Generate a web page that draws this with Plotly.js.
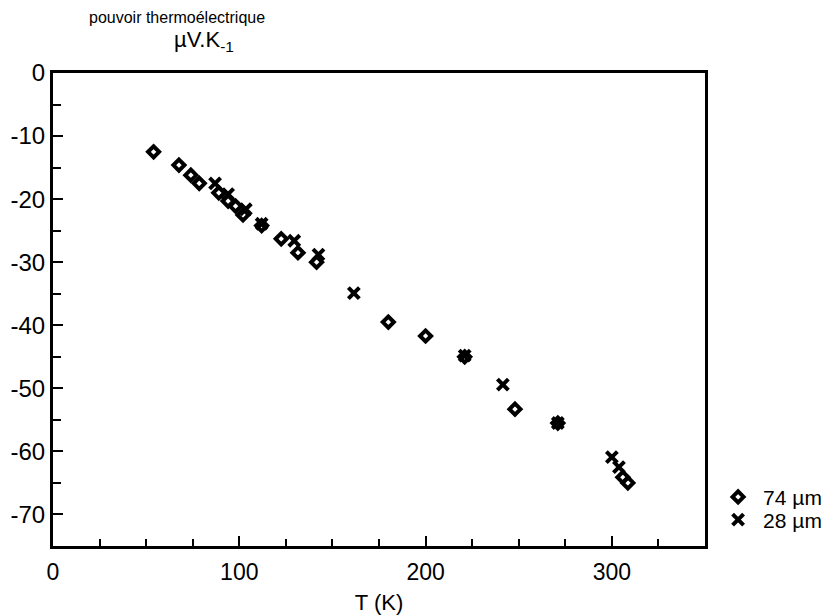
<!DOCTYPE html>
<html>
<head>
<meta charset="utf-8">
<script src="https://cdn.plot.ly/plotly-3.0.1.min.js"></script>
<style>html,body{margin:0;padding:0;background:#fff;}#chart{width:835px;height:616px;}</style>
</head>
<body>
<div id="chart"></div>
<script>
// 74 µm sample
const T74 = [54, 67.6, 74, 78.5, 89, 94, 98, 102, 112, 122.5, 131.5, 141.5, 180, 200, 221, 248, 271, 305.9, 308.6];
const S74 = [-12.5, -14.6, -16.2, -17.5, -19.0, -20.3, -21.1, -22.5, -24.2, -26.3, -28.5, -30.0, -39.5, -41.7, -45.0, -53.3, -55.5, -64.1, -65.0];
// 28 µm sample
const T28 = [87, 94, 103.5, 112, 129.5, 142.5, 161.5, 221, 241.5, 271, 300, 303.8];
const S28 = [-17.5, -19.2, -21.6, -23.9, -26.6, -28.8, -34.9, -44.8, -49.4, -55.5, -60.9, -62.5];
const seriesNames = ['74 µm', '28 µm'];
const xTickVals = [0, 100, 200, 300];
const xTickText = ['0', '100', '200', '300'];
const yTickVals = [0, -10, -20, -30, -40, -50, -60, -70];
const yTickText = ['0', '-10', '-20', '-30', '-40', '-50', '-60', '-70'];
const xTitle = 'T (K)';
const yTitleLine1 = 'pouvoir thermoélectrique';
const yTitleLine2 = 'µV.K<sub>-1</sub>';

const FONT = 'Liberation Sans, Arial, Helvetica, sans-serif';

const traces = [
  {
    x: T74, y: S74, name: seriesNames[0], type: 'scatter', mode: 'markers',
    marker: {symbol: 'diamond-open', size: 8.5, color: '#000', line: {width: 4, color: '#000'}},
    legend: 'legend'
  },
  {
    x: T28, y: S28, name: seriesNames[1], type: 'scatter', mode: 'markers',
    marker: {symbol: 'x-thin-open', size: 11, color: '#000', line: {width: 4, color: '#000'}},
    legend: 'legend2'
  }
];

const layout = {
  width: 835, height: 616,
  margin: {l: 53, r: 130, t: 73, b: 70, autoexpand: false},
  paper_bgcolor: '#fff', plot_bgcolor: '#fff',
  font: {family: FONT, color: '#000', size: 22},
  showlegend: true,
  legend: {x: 1.0124, y: 0.103, xanchor: 'left', yanchor: 'middle', itemwidth: 40, font: {size: 21, family: FONT}, bgcolor: 'rgba(0,0,0,0)', borderwidth: 0},
  legend2: {x: 1.0124, y: 0.055, xanchor: 'left', yanchor: 'middle', itemwidth: 40, font: {size: 21, family: FONT}, bgcolor: 'rgba(0,0,0,0)', borderwidth: 0},
  xaxis: {
    range: [0, 350], tickmode: 'array', tickvals: xTickVals, ticktext: xTickText,
    ticks: 'inside', ticklen: 10, tickwidth: 2, tickcolor: '#000',
    minor: {dtick: 25, tick0: 0, ticks: 'inside', ticklen: 7, tickwidth: 2, tickcolor: '#000'},
    showline: true, linewidth: 3, linecolor: '#000', mirror: true,
    showgrid: false, zeroline: false,
    tickfont: {size: 23, family: FONT},
    ticklabelstandoff: 3,
    title: {text: xTitle, font: {size: 22, family: FONT}, standoff: 12}
  },
  yaxis: {
    range: [-75, 0], tickmode: 'array', tickvals: yTickVals, ticktext: yTickText,
    ticks: 'inside', ticklen: 10, tickwidth: 2, tickcolor: '#000',
    minor: {dtick: 5, tick0: 0, ticks: 'inside', ticklen: 8, tickwidth: 2, tickcolor: '#000'},
    showline: true, linewidth: 3, linecolor: '#000', mirror: true,
    showgrid: false, zeroline: false,
    tickfont: {size: 24, family: FONT},
    ticklabelstandoff: 0
  },
  annotations: [
    {xref: 'paper', yref: 'paper', x: 0.052, y: 1.118, xanchor: 'left', yanchor: 'middle', showarrow: false,
     text: yTitleLine1, font: {size: 16, family: FONT, color: '#000'}},
    {xref: 'paper', yref: 'paper', x: 0.183, y: 1.067, xanchor: 'left', yanchor: 'middle', showarrow: false,
     text: yTitleLine2, font: {size: 22, family: FONT, color: '#000'}}
  ]
};

Plotly.newPlot('chart', traces, layout, {displayModeBar: false, staticPlot: true});
</script>
</body>
</html>
